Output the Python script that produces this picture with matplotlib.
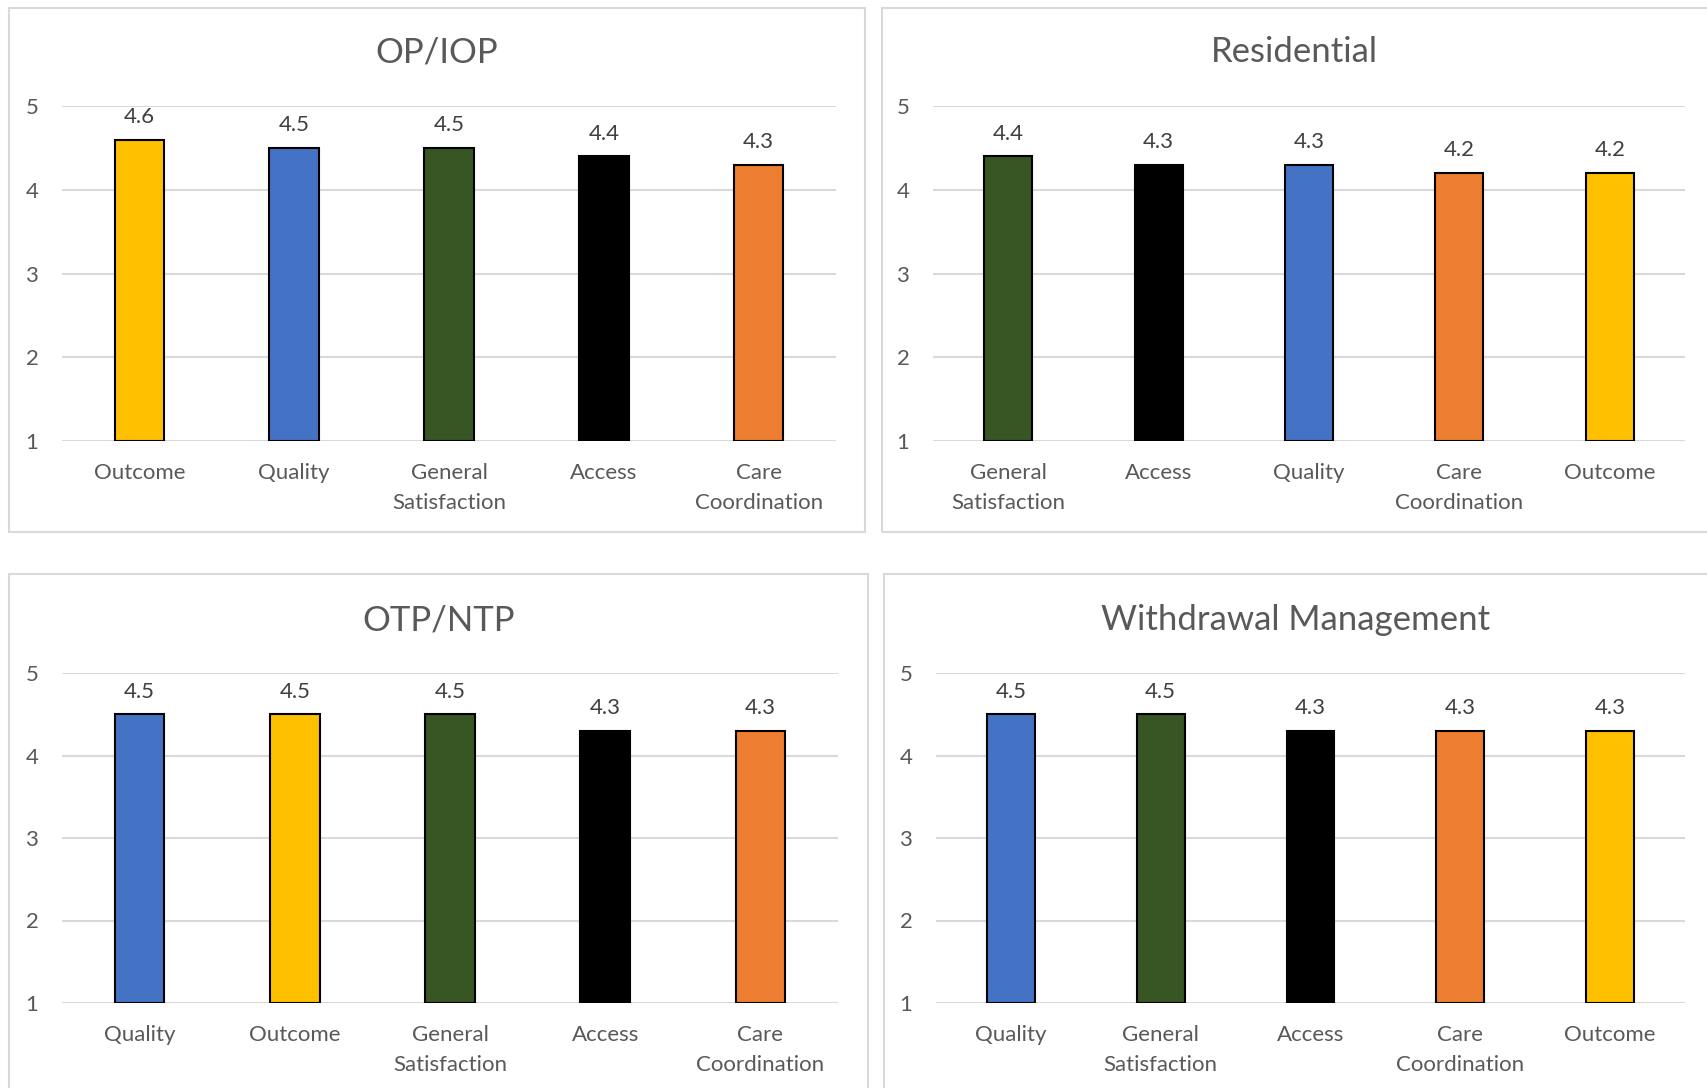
import matplotlib.pyplot as plt
from matplotlib.patches import Rectangle

W, H = 1707, 1088

# data per panel
titles = ["OP/IOP", "Residential", "OTP/NTP", "Withdrawal Management"]

op_cats = ["Outcome", "Quality", "General\nSatisfaction", "Access", "Care\nCoordination"]
op_vals = [4.6, 4.5, 4.5, 4.4, 4.3]

res_cats = ["General\nSatisfaction", "Access", "Quality", "Care\nCoordination", "Outcome"]
res_vals = [4.4, 4.3, 4.3, 4.2, 4.2]

otp_cats = ["Quality", "Outcome", "General\nSatisfaction", "Access", "Care\nCoordination"]
otp_vals = [4.5, 4.5, 4.5, 4.3, 4.3]

wm_cats = ["Quality", "General\nSatisfaction", "Access", "Care\nCoordination", "Outcome"]
wm_vals = [4.5, 4.5, 4.3, 4.3, 4.3]

colors = {
    "Outcome": "#FFC000",
    "Quality": "#4472C4",
    "General\nSatisfaction": "#375623",
    "Access": "#000000",
    "Care\nCoordination": "#ED7D31",
}

plt.rcParams['font.family'] = ['Lato', 'DejaVu Sans']

fig = plt.figure(figsize=(W / 100, H / 100), dpi=100)

# pixel boxes: (border rect), (axes rect), title y
layout = [
    ((9, 8, 865, 532), (62, 106, 836, 441), 52),
    ((882, 8, 1712, 532), (933, 106, 1685, 441), 52),
    ((9, 574, 868, 1095), (62, 673, 838, 1003), 620),
    ((884, 574, 1712, 1095), (936, 673, 1685, 1003), 620),
]

panels = [(op_cats, op_vals), (res_cats, res_vals), (otp_cats, otp_vals), (wm_cats, wm_vals)]

for (cats, vals), title, (box, axr, ty) in zip(panels, titles, layout):
    x0, y0, x1, y1 = box
    fig.patches.append(Rectangle((x0 / W, 1 - y1 / H), (x1 - x0) / W, (y1 - y0) / H,
                                 transform=fig.transFigure, fill=False,
                                 edgecolor="#D9D9D9", linewidth=1.5))
    ax0, ay0, ax1, ay1 = axr
    ax = fig.add_axes([ax0 / W, 1 - ay1 / H, (ax1 - ax0) / W, (ay1 - ay0) / H])
    xs = range(len(cats))
    bars = ax.bar(xs, [v - 1 for v in vals], bottom=1, width=0.32,
                  color=[colors[c] for c in cats], edgecolor="black", linewidth=1.5, zorder=3)
    ax.bar_label(bars, labels=[f"{v:.1f}" for v in vals], padding=9,
                 fontsize=16, color="#404040")
    ax.set_ylim(1, 5)
    ax.set_xlim(-0.5, len(cats) - 0.5)
    ax.set_yticks([1, 2, 3, 4, 5])
    ax.set_xticks(list(xs))
    ax.set_xticklabels(cats, fontsize=16, color="#595959", linespacing=1.6, va="top")
    ax.tick_params(axis='y', labelsize=16, labelcolor="#595959", length=0, pad=17)
    ax.tick_params(axis='x', length=0, pad=16)
    ax.grid(axis='y', color="#D9D9D9", linewidth=1.5, zorder=0)
    for s in ax.spines.values():
        s.set_visible(False)
    ax.set_facecolor("none")
    fig.text((x0 + min(x1, W)) / 2 / W, 1 - ty / H, title,
             ha="center", va="center", fontsize=25, color="#595959")

fig.savefig("out.png", dpi=100)
